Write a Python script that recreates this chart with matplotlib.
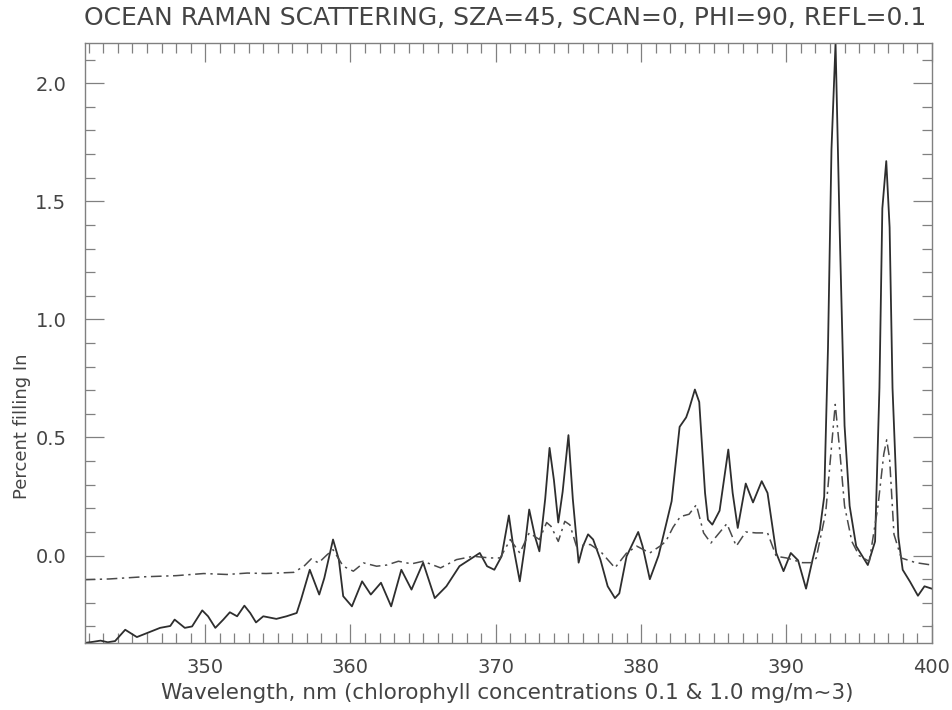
#!/usr/bin/env python3
"""Ocean Raman scattering filling-in for two chlorophyll concentrations."""

from __future__ import annotations

import matplotlib

matplotlib.use("Agg")
import matplotlib.pyplot as plt
from matplotlib.ticker import FormatStrFormatter, MultipleLocator

# chlorophyll 0.1 mg/m^3 (solid)
WAVE_LOW = [
    341.7, 342.3, 342.8, 343.3, 343.8, 344.5, 345.3, 346.0, 346.9, 347.6,
    347.9, 348.6, 349.1, 349.8, 350.2, 350.7, 351.25, 351.7, 352.2, 352.7,
    353.1, 353.5, 354.0, 354.9, 355.6, 356.3, 356.6, 357.2, 357.85, 358.2,
    358.8, 359.2, 359.5, 360.1, 360.8, 361.4, 362.1, 362.8, 363.5, 364.2,
    365.0, 365.8, 366.6, 367.5, 368.2, 368.9, 369.4, 369.9, 370.4, 370.9,
    371.2, 371.65, 372.0, 372.3, 372.7, 373.0, 373.4, 373.7, 374.0, 374.3,
    374.6, 375.0, 375.3, 375.7, 376.0, 376.35, 376.7, 377.2, 377.7, 378.2,
    378.5, 379.0, 379.8, 380.1, 380.6, 381.2, 381.75, 382.1, 382.65, 383.1,
    383.3, 383.7, 384.0, 384.4, 384.6, 384.9, 385.4, 386.0, 386.3, 386.65,
    387.2, 387.7, 388.3, 388.7, 389.3, 389.8, 390.3, 390.8, 391.35, 391.8,
    392.3, 392.6, 392.86, 393.1, 393.38, 393.66, 394.0, 394.35, 394.8, 395.6,
    396.1, 396.4, 396.6, 396.87, 397.1, 397.3, 397.7, 398.0, 398.5, 399.05,
    399.5, 400.0,
]
FILL_LOW = [
    -0.370, -0.365, -0.360, -0.367, -0.362, -0.314, -0.345, -0.328, -0.306, -0.298,
    -0.271, -0.306, -0.300, -0.232, -0.257, -0.306, -0.271, -0.240, -0.257, -0.212,
    -0.243, -0.283, -0.257, -0.268, -0.257, -0.243, -0.186, -0.060, -0.165, -0.095,
    0.068, -0.017, -0.172, -0.215, -0.109, -0.165, -0.115, -0.215, -0.060, -0.144,
    -0.030, -0.180, -0.130, -0.045, -0.017, 0.011, -0.045, -0.060, -0.003, 0.170,
    0.040, -0.109, 0.040, 0.195, 0.080, 0.018, 0.240, 0.456, 0.320, 0.140,
    0.270, 0.510, 0.240, -0.030, 0.040, 0.090, 0.068, -0.017, -0.130, -0.180,
    -0.160, -0.003, 0.100, 0.040, -0.100, 0.000, 0.140, 0.230, 0.545, 0.585,
    0.620, 0.703, 0.650, 0.265, 0.152, 0.131, 0.190, 0.449, 0.265, 0.117,
    0.305, 0.225, 0.315, 0.265, 0.011, -0.066, 0.011, -0.020, -0.140, -0.017,
    0.110, 0.250, 0.880, 1.720, 2.170, 1.390, 0.550, 0.210, 0.040, -0.040,
    0.060, 0.710, 1.470, 1.670, 1.390, 0.710, 0.080, -0.060, -0.110, -0.170,
    -0.130, -0.140,
]

# chlorophyll 1.0 mg/m^3 (dash-dot)
WAVE_HIGH = [
    341.7, 343.4, 345.7, 348.0, 349.9, 351.5, 352.9, 354.2, 356.1, 356.8,
    357.3, 357.8, 358.4, 358.8, 359.5, 360.2, 360.9, 361.8, 362.5, 363.3,
    364.2, 365.0, 366.2, 367.3, 368.45, 369.6, 370.3, 371.0, 371.65, 372.3,
    373.0, 373.5, 373.8, 374.3, 374.75, 375.1, 375.55, 376.5, 377.2, 378.2,
    379.0, 379.7, 380.6, 381.3, 381.7, 382.2, 382.7, 383.3, 383.8, 384.3,
    384.8, 385.9, 386.55, 387.2, 387.9, 388.7, 389.3, 390.0, 391.1, 391.8,
    392.05, 392.7, 393.1, 393.36, 393.66, 394.0, 394.5, 395.0, 395.7, 396.3,
    396.7, 396.9, 397.1, 397.4, 397.9, 398.9, 400.0,
]
FILL_HIGH = [
    -0.102, -0.099, -0.090, -0.085, -0.076, -0.080, -0.074, -0.076, -0.071, -0.045,
    -0.014, -0.031, 0.004, 0.025, -0.045, -0.066, -0.031, -0.045, -0.040, -0.024,
    -0.035, -0.024, -0.052, -0.017, -0.003, -0.010, -0.010, 0.068, 0.011, 0.096,
    0.068, 0.140, 0.124, 0.060, 0.145, 0.130, 0.040, 0.047, 0.018, -0.052,
    0.011, 0.040, 0.011, 0.040, 0.060, 0.120, 0.165, 0.175, 0.215, 0.096,
    0.053, 0.135, 0.040, 0.100, 0.096, 0.096, -0.003, -0.010, -0.030, -0.030,
    -0.010, 0.180, 0.460, 0.640, 0.450, 0.210, 0.060, 0.000, -0.025, 0.210,
    0.430, 0.490, 0.410, 0.090, -0.010, -0.030, -0.040,
]

TITLE = "OCEAN RAMAN SCATTERING, SZA=45, SCAN=0, PHI=90, REFL=0.1"
XLABEL = "Wavelength, nm (chlorophyll concentrations 0.1 & 1.0 mg/m~3)"
YLABEL = "Percent filling In"

INK = "#444444"


def main() -> None:
    fig = plt.figure(figsize=(9.53, 7.10), dpi=100)
    ax = fig.add_axes([0.0887, 0.0944, 0.889, 0.845])

    ax.plot(WAVE_LOW, FILL_LOW, color="#2e2e2e", linewidth=1.3)
    ax.plot(WAVE_HIGH, FILL_HIGH, color="#4a4a4a", linewidth=1.1,
            linestyle=(0, (7, 3, 1.5, 3)))

    ax.set_xlim(341.7, 400.0)
    ax.set_ylim(-0.37, 2.17)
    ax.xaxis.set_major_locator(MultipleLocator(10))
    ax.xaxis.set_minor_locator(MultipleLocator(1))
    ax.yaxis.set_major_locator(MultipleLocator(0.5))
    ax.yaxis.set_minor_locator(MultipleLocator(0.1))
    ax.yaxis.set_major_formatter(FormatStrFormatter("%.1f"))

    ax.tick_params(which="both", direction="in", top=True, right=True,
                   color="#808080", width=0.9, labelcolor=INK, labelsize=14)
    ax.tick_params(which="major", length=14)
    ax.tick_params(which="minor", length=7)
    ax.tick_params(axis="x", which="major", pad=11)
    ax.tick_params(axis="y", which="major", pad=13)
    for spine in ax.spines.values():
        spine.set_color("#808080")
        spine.set_linewidth(1.0)

    fig.text(0.530, 0.975, TITLE, ha="center", va="center", fontsize=18, color=INK)
    fig.text(0.532, 0.024, XLABEL, ha="center", va="center", fontsize=15.5, color=INK)
    fig.text(0.023, 0.40, YLABEL, ha="center", va="center", rotation=90,
             fontsize=13, color=INK)

    fig.savefig("out.png", dpi=100)
    plt.close(fig)


if __name__ == "__main__":
    main()
